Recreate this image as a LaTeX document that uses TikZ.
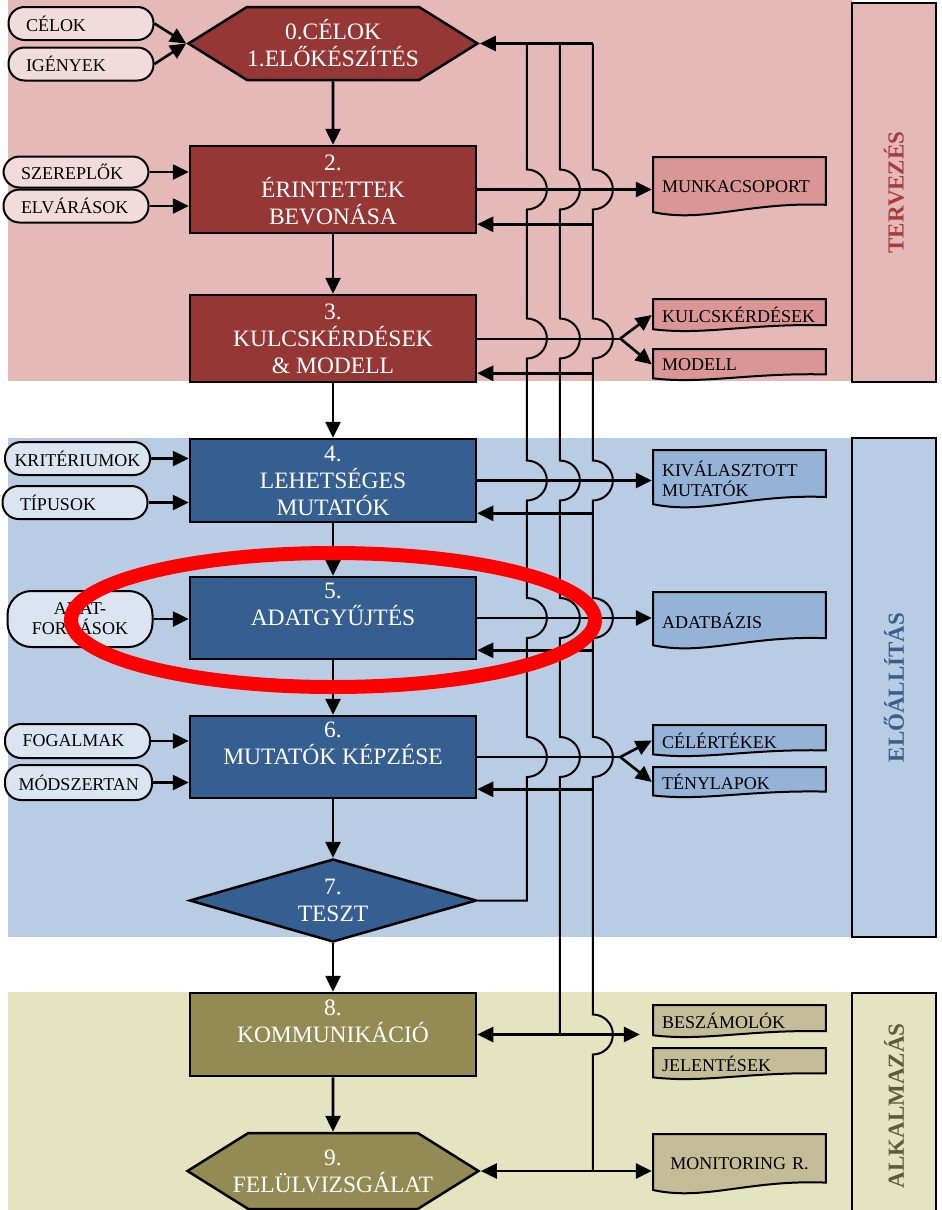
\documentclass[tikz,border=0pt]{standalone}
\usepackage{fontspec}
\setmainfont{Liberation Serif}
\usetikzlibrary{shapes.geometric,shapes.symbols,arrows.meta,calc}
\hyphenpenalty=10000
\definecolor{pinkbg}{HTML}{E5B9B7}
\definecolor{redbox}{HTML}{953735}
\definecolor{pinkpill}{HTML}{F2DCDB}
\definecolor{pinkdoc}{HTML}{D99694}
\definecolor{pinktext}{HTML}{A33F3C}
\definecolor{bluebg}{HTML}{B8CCE4}
\definecolor{bluebox}{HTML}{365F91}
\definecolor{bluepill}{HTML}{DBE5F1}
\definecolor{bluedoc}{HTML}{95B3D7}
\definecolor{bluetext}{HTML}{3A5F8C}
\definecolor{olivebg}{HTML}{E4E4C1}
\definecolor{olivebox}{HTML}{948A54}
\definecolor{olivedoc}{HTML}{C4BC96}
\definecolor{olivetext}{HTML}{5E5A3C}

\begin{document}
\begin{tikzpicture}[x=1pt, y=-1pt,
  proc node/.style={rectangle, draw, line width=2.5pt, minimum width=286pt, minimum height=83pt, text=white, align=center, font=\fontsize{23.5}{27}\selectfont},
  hexa node/.style={proc node, shape=signal, signal to=east and west, signal pointer angle=64, inner xsep=-22pt},
  input node/.style={rectangle, draw, rounded corners=16pt, line width=2pt, minimum width=145pt, minimum height=33pt, text width=110pt, inner xsep=17.5pt, inner ysep=2pt, align=left, font=\fontsize{18}{20}\selectfont},
  doc node/.style={rectangle, minimum width=175pt, text width=155pt, inner xsep=10pt, inner ysep=2pt, align=left, font=\fontsize{18}{20}\selectfont,
    path picture={\filldraw[fill=#1, line width=2pt] let \p1=(path picture bounding box.north west), \p2=(path picture bounding box.south east) in
      (\x1+1.2pt,\y1-1.2pt) -- (\x2-1.2pt,\y1-1.2pt) -- (\x2-1.2pt,{0.8*\y2+0.2*\y1})
      .. controls ({0.45*\x1+0.55*\x2},{0.75*\y2+0.25*\y1}) and ({0.7*\x1+0.3*\x2},{1.1*\y2-0.1*\y1}) .. (\x1+1.2pt,{0.92*\y2+0.08*\y1}) -- cycle;}},
  phase node/.style={rectangle, draw, line width=2.5pt, rotate=90, minimum height=84pt, font=\fontsize{23}{27}\selectfont\bfseries},
  arr/.style={line width=2.6pt, -{Triangle[length=16pt, width=15pt]}},
  biarr/.style={line width=2.6pt, {Triangle[length=16pt, width=15pt]}-{Triangle[length=16pt, width=15pt]}},
  link/.style={line width=2pt},
  hop/.style={to path={-- ([yshift=20pt]\tikztotarget) arc[start angle=90, end angle=-90, radius=20pt]}}]

  \useasboundingbox (0,0) rectangle (942,1210);

  % fázisok
  \fill[pinkbg] (8,0) rectangle (852,381);
  \fill[bluebg] (8,438) rectangle (852,937);
  \fill[olivebg] (8,992) rectangle (852,1214);
  \node[phase node, fill=pinkbg, text=pinktext, minimum width=379pt] (tervezes) at (894,192.5) {TERVEZÉS};
  \node[phase node, fill=bluebg, text=bluetext, minimum width=499pt] (eloallitas) at (894,687.5) {ELŐÁLLÍTÁS};
  \node[phase node, fill=olivebg, text=olivetext, minimum width=226pt] (alkalmazas) at (894,1106) {ALKALMAZÁS};

  % lépések
  \node[hexa node, fill=redbox, minimum width=289pt, minimum height=73pt] (b01) at (333,43.5) {0.CÉLOK\\1.ELŐKÉSZÍTÉS};
  \node[proc node, fill=redbox, minimum height=87pt] (b2) at (333,189.5) {2.\\ÉRINTETTEK\\BEVONÁSA};
  \node[proc node, fill=redbox, minimum height=87pt] (b3) at (333,338.5) {3.\\KULCSKÉRDÉSEK\\\& MODELL};
  \node[proc node, fill=bluebox] (b4) at (333,480.5) {4.\\LEHETSÉGES\\MUTATÓK};
  \node[proc node, fill=bluebox, minimum height=82pt] (b5) at (333,618) {5.\\ADATGYŰJTÉS\\\mbox{}};
  \node[proc node, fill=bluebox, minimum height=82pt] (b6) at (333,757) {6.\\MUTATÓK KÉPZÉSE\\\mbox{}};
  \node[proc node, shape=diamond, aspect=3.46, fill=bluebox, minimum width=287pt, inner sep=0pt] (b7) at (333,900.5) {7.\\TESZT};
  \node[proc node, fill=olivebox] (b8) at (333,1034.5) {8.\\KOMMUNIKÁCIÓ\\\mbox{}};
  \node[hexa node, fill=olivebox, minimum width=291pt, minimum height=76pt] (b9) at (333,1171) {9.\\FELÜLVIZSGÁLAT};

  % bemenetek
  \node[input node, fill=pinkpill] (celok) at (81,23.5) {CÉLOK};
  \node[input node, fill=pinkpill] (igenyek) at (81,64) {IGÉNYEK};
  \node[input node, fill=pinkpill, minimum height=31pt] (szereplok) at (76,172) {SZEREPLŐK};
  \node[input node, fill=pinkpill] (elvarasok) at (76,206) {ELVÁRÁSOK};
  \node[input node, fill=bluepill, text width=126pt, inner xsep=9.5pt] (kriteriumok) at (77.5,458.5) {KRITÉRIUMOK};
  \node[input node, fill=bluepill] (tipusok) at (75,502.5) {TÍPUSOK};
  \node[input node, fill=bluepill, minimum height=56pt, rounded corners=24pt, align=center] (adatforras) at (80,619) {ADAT-\\FORRÁSOK};
  \node[input node, fill=bluepill, minimum height=34pt] (fogalmak) at (77.5,741) {FOGALMAK};
  \node[input node, fill=bluepill, minimum height=35pt, text width=120pt, inner xsep=13.5pt] (modszertan) at (78.5,782.5) {MÓDSZERTAN};

  % eredmények
  \node[doc node=pinkdoc, minimum height=61pt] (munka) at (739.5,186.5) {MUNKACSOPORT};
  \node[doc node=pinkdoc, minimum height=34pt] (kulcs) at (739.5,315) {KULCSKÉRDÉSEK};
  \node[doc node=pinkdoc, minimum height=33pt] (modell) at (739.5,364.5) {MODELL};
  \node[doc node=bluedoc, minimum height=60pt] (kivalasztott) at (739.5,479) {KIVÁLASZTOTT\\MUTATÓK};
  \node[doc node=bluedoc, minimum height=59pt] (adatbazis) at (739.5,620.5) {ADATBÁZIS};
  \node[doc node=bluedoc, minimum height=33pt] (celertek) at (739.5,740.5) {CÉLÉRTÉKEK};
  \node[doc node=bluedoc, minimum height=32pt] (tenylapok) at (739.5,782) {TÉNYLAPOK};
  \node[doc node=olivedoc, minimum height=34pt] (beszamolok) at (739.5,1021) {BESZÁMOLÓK};
  \node[doc node=olivedoc, minimum height=33pt] (jelentesek) at (739.5,1063.5) {JELENTÉSEK};
  \node[doc node=olivedoc, minimum height=62pt, align=center] (monitoring) at (739.5,1164) {MONITORING R.};

  % fő folyamat
  \draw[arr] (b01) -- (b2);
  \draw[arr] (b2) -- (b3);
  \draw[arr] (b3) -- (b4);
  \draw[arr] (b4) -- (b5);
  \draw[arr] (b5) -- (b6);
  \draw[arr] (b6) -- (b7);
  \draw[arr] (b7) -- (b8);
  \draw[arr] (b8) -- (b9);

  % bemenő nyilak
  \draw[arr] (celok.east) -- (b01.west);
  \draw[arr] (igenyek.east) -- (b01.west);
  \draw[arr] (szereplok.east) -- (szereplok.east -| b2.west);
  \draw[arr] (elvarasok.east) -- (elvarasok.east -| b2.west);
  \draw[arr] (kriteriumok.east) -- (kriteriumok.east -| b4.west);
  \draw[arr] (tipusok.east) -- (tipusok.east -| b4.west);
  \draw[arr] (adatforras.east) -- (adatforras.east -| b5.west);
  \draw[arr] (fogalmak.east) -- (fogalmak.east -| b6.west);
  \draw[arr] (modszertan.east) -- (modszertan.east -| b6.west);

  % visszacsatolás
  \coordinate (v1) at ([xshift=47pt]b01.east);
  \coordinate (v2) at ([xshift=80pt]b01.east);
  \coordinate (v3) at ([xshift=113pt]b01.east);
  \draw[arr] (v3) -- (b01.east);
  \draw[link] (v1) to[hop] (v1 |- b2.east) to[hop] (v1 |- b3.east) to[hop] (v1 |- b4.east)
    to[hop] (v1 |- b5.east) to[hop] (v1 |- b6.east) -- (v1 |- b7.east) -- (b7.east);
  \draw[link] (v2) to[hop] (v2 |- b2.east) to[hop] (v2 |- b3.east) to[hop] (v2 |- b4.east)
    to[hop] (v2 |- b5.east) to[hop] (v2 |- b6.east) -- (v2 |- b8.east);
  \draw[link] (v3) to[hop] (v3 |- b2.east) to[hop] (v3 |- b3.east) to[hop] (v3 |- b4.east)
    to[hop] (v3 |- b5.east) to[hop] (v3 |- b6.east) to[hop] (v3 |- b8.east) -- (v3 |- b9.east);

  \coordinate (r2) at ([yshift=10pt]b2.south east);
  \coordinate (r3) at ([yshift=10pt]b3.south east);
  \coordinate (r4) at ([yshift=10pt]b4.south east);
  \coordinate (r5) at ([yshift=10pt]b5.south east);
  \coordinate (r6) at ([yshift=10pt]b6.south east);
  \draw[arr] (r2 -| v3) -- (r2);
  \draw[arr] (r3 -| v3) -- (r3);
  \draw[arr] (r4 -| v3) -- (r4);
  \draw[arr] (r5 -| v3) -- (r5);
  \draw[arr] (r6 -| v3) -- (r6);

  % kimenő nyilak
  \draw[arr] (b2.east) -- (b2.east -| munka.west);
  \coordinate (s3) at ([xshift=143pt]b3.east);
  \draw[link] (b3.east) -- (s3);
  \draw[arr] (s3) -- (kulcs.west);
  \draw[arr] (s3) -- (modell.west);
  \draw[arr] (b4.east) -- (b4.east -| kivalasztott.west);
  \draw[arr] (b5.east) -- (b5.east -| adatbazis.west);
  \coordinate (s6) at ([xshift=143pt]b6.east);
  \draw[link] (b6.east) -- (s6);
  \draw[arr] (s6) -- (celertek.west);
  \draw[arr] (s6) -- (tenylapok.west);
  \draw[biarr, shorten >=12pt] (b8.east) -- (b8.east -| beszamolok.west);
  \draw[biarr] (b9.east) -- (b9.east -| monitoring.west);

  % kiemelés
  \draw[red, line width=14pt] (333,620) ellipse [x radius=262, y radius=67];
\end{tikzpicture}
\end{document}
